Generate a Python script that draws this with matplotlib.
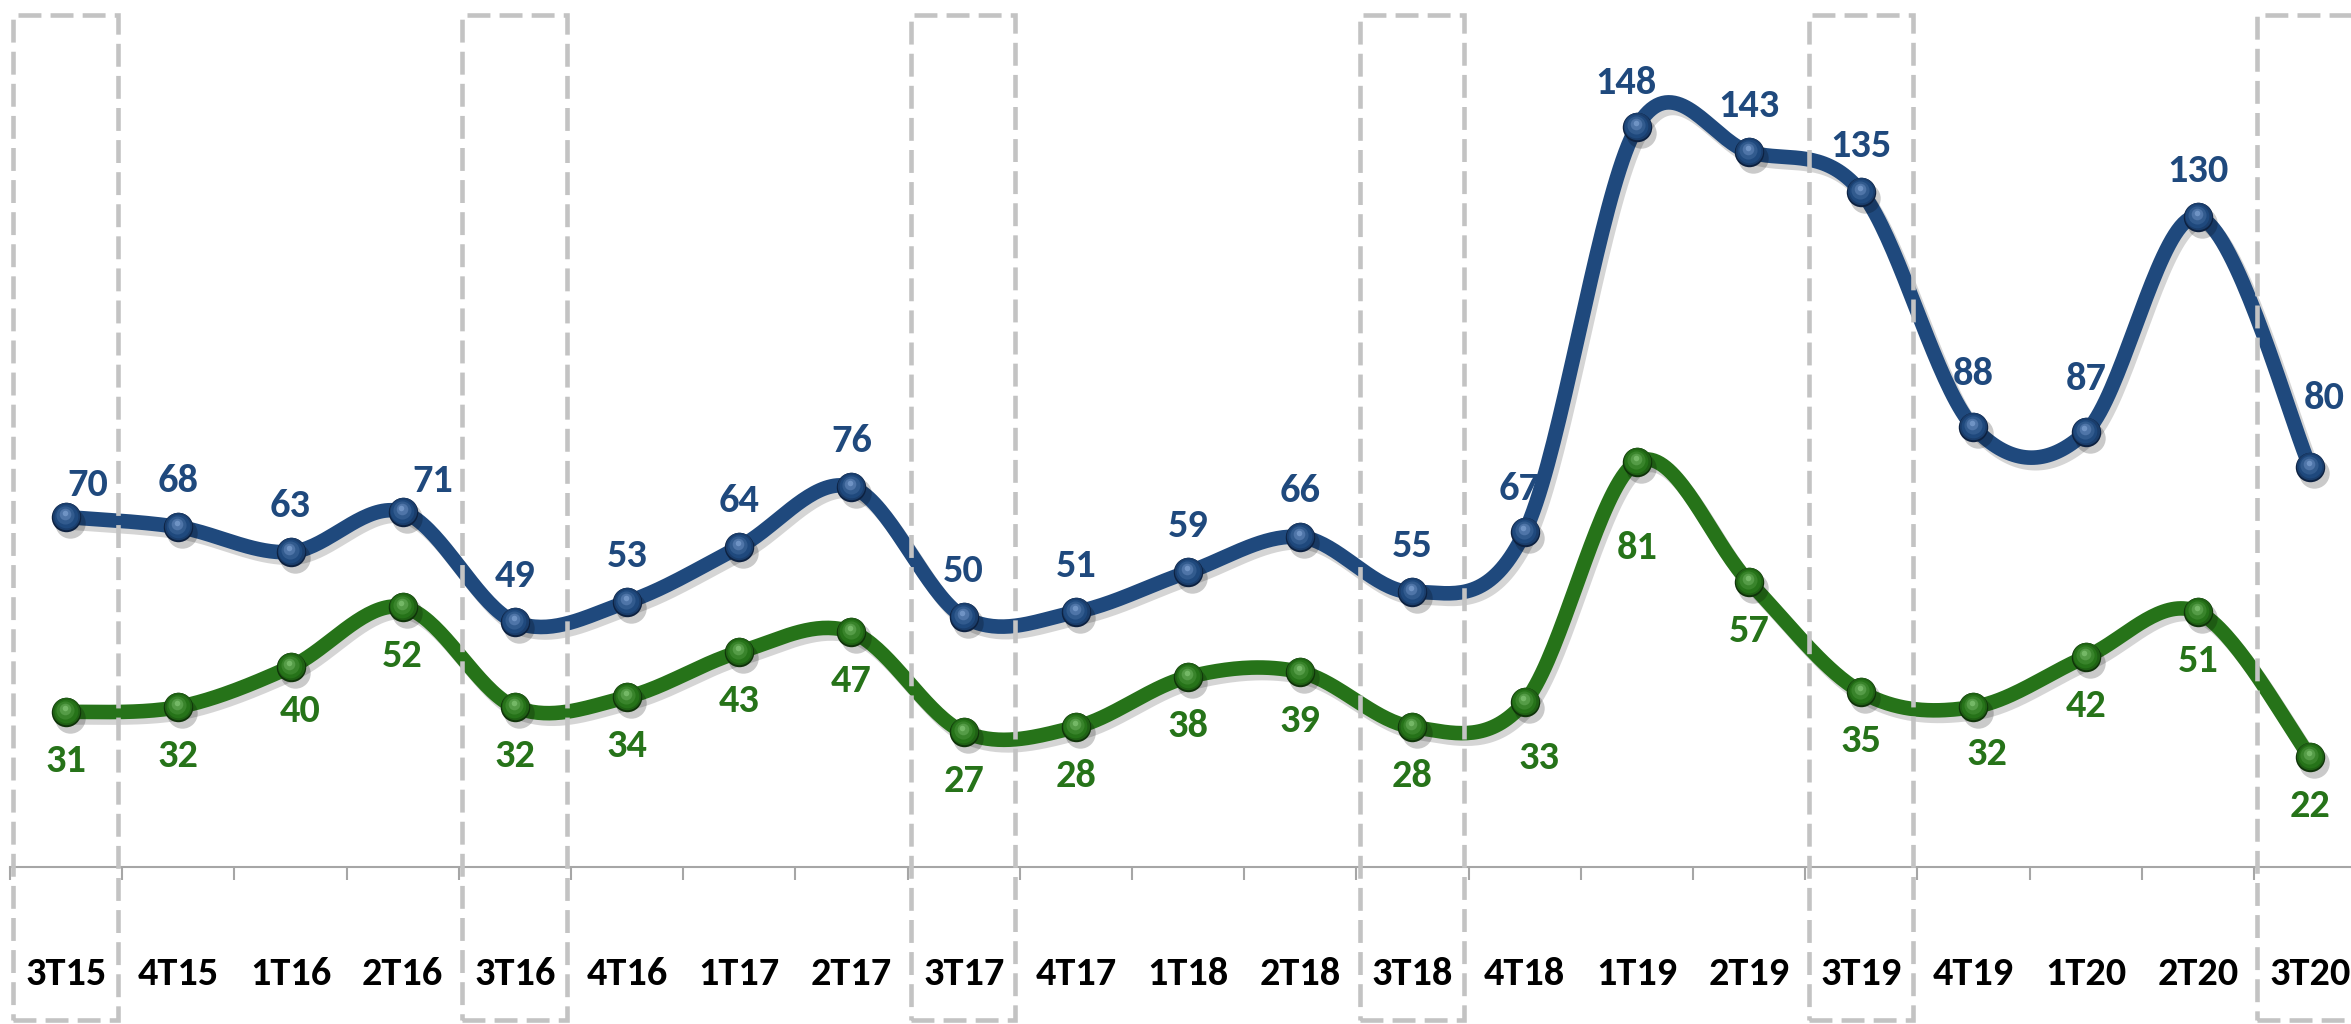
import numpy as np
import matplotlib
matplotlib.use("Agg")
import matplotlib.pyplot as plt
import matplotlib.patheffects as pe
from matplotlib.patches import Rectangle
from matplotlib.transforms import ScaledTranslation

plt.rcParams['font.family'] = ['Carlito', 'DejaVu Sans']

quarters = ['3T15', '4T15', '1T16', '2T16', '3T16', '4T16', '1T17', '2T17', '3T17', '4T17',
            '1T18', '2T18', '3T18', '4T18', '1T19', '2T19', '3T19', '4T19', '1T20', '2T20', '3T20']
blue_values = [70, 68, 63, 71, 49, 53, 64, 76, 50, 51, 59, 66, 55, 67, 148, 143, 135, 88, 87, 130, 80]
green_values = [31, 32, 40, 52, 32, 34, 43, 47, 27, 28, 38, 39, 28, 33, 81, 57, 35, 32, 42, 51, 22]
boxed = ['3T15', '3T16', '3T17', '3T18', '3T19', '3T20']

BLUE = '#1F497D'
GREEN = '#267319'
BOX = '#C3C3C3'

# label nudges (points), anything not listed uses the default
blue_nudge = {0: (16, 23), 3: (22, 22), 13: (-4, 31), 14: (-8, 32), 17: (0, 38), 18: (0, 38), 20: (10, 50)}
green_nudge = {2: (7, -32), 13: (10, -40), 14: (0, -62), 17: (10, -34)}


def smooth(x, y, n=40):
    # excel style smoothing (catmull-rom through the points)
    x = np.asarray(x, float)
    y = np.asarray(y, float)
    px = np.concatenate([[x[0]], x, [x[-1]]])
    py = np.concatenate([[y[0]], y, [y[-1]]])
    xs, ys = [], []
    t = np.linspace(0, 1, n)
    for i in range(1, len(px) - 2):
        p0 = np.array([px[i], py[i]])
        p3 = np.array([px[i + 1], py[i + 1]])
        c1 = p0 + (p3 - np.array([px[i - 1], py[i - 1]])) / 6
        c2 = p3 - (np.array([px[i + 2], py[i + 2]]) - p0) / 6
        b = ((1 - t) ** 3)[:, None] * p0 + (3 * (1 - t) ** 2 * t)[:, None] * c1 \
            + (3 * (1 - t) * t ** 2)[:, None] * c2 + (t ** 3)[:, None] * p3
        xs.append(b[:, 0])
        ys.append(b[:, 1])
    return np.concatenate(xs), np.concatenate(ys)


def sphere(ax, x, y, color, light, dark):
    # fake 3d ball marker: shadow, dark rim, then lighter layers towards the top
    dpi = ax.figure.dpi_scale_trans
    ax.scatter(x, y, s=480, color='#00000035', zorder=5, linewidths=0,
               transform=ax.transData + ScaledTranslation(3/72, -4/72, dpi))
    ax.scatter(x, y, s=450, color=dark, linewidths=0, zorder=6)
    cmap = matplotlib.colors.LinearSegmentedColormap.from_list('s', [dark, color, light])
    layers = [(390, 0.0, 0.4, 0.35), (290, -0.3, 1.0, 0.5), (170, -0.6, 1.6, 0.62),
              (70, -0.8, 2.2, 0.8), (16, -0.9, 3.0, 1.0)]
    for k, (sz, dx, dy, c) in enumerate(layers):
        ax.scatter(x, y, s=sz, color=cmap(c), linewidths=0, zorder=7 + k,
                   transform=ax.transData + ScaledTranslation(dx/72, dy/72, dpi))


fig = plt.figure(figsize=(23.51, 10.24), dpi=100)
step = 112.2 / 2351
ax = fig.add_axes([10 / 2351, 157 / 1024, 21 * step, 867 / 1024])
ax.set_xlim(-0.5, 20.5)
ax.set_ylim(0, 173.4)

x = np.arange(len(quarters))
shadow = [pe.SimpleLineShadow(offset=(3, -4), shadow_color='#888888', alpha=0.35), pe.Normal()]

for vals, col, light, dark in [(blue_values, BLUE, '#6f93c4', '#0d2140'),
                               (green_values, GREEN, '#74b866', '#0f3309')]:
    sx, sy = smooth(x, vals)
    ax.plot(sx, sy, color=col, lw=10.5, solid_capstyle='round', zorder=3, path_effects=shadow)
    sphere(ax, x, vals, col, light, dark)

for i, v in enumerate(blue_values):
    dx, dy = blue_nudge.get(i, (0, 33))
    ax.annotate(str(v), (i, v), xytext=(dx, dy), textcoords='offset points',
                ha='center', va='center', fontsize=29, fontweight='bold', color=BLUE, zorder=12)
for i, v in enumerate(green_values):
    dx, dy = green_nudge.get(i, (0, -35))
    ax.annotate(str(v), (i, v), xytext=(dx, dy), textcoords='offset points',
                ha='center', va='center', fontsize=29, fontweight='bold', color=GREEN, zorder=12)

# dashed boxes round the third quarters
for q in boxed:
    i = quarters.index(q)
    ax.add_patch(Rectangle((i - 0.47, -30.6), 0.93, 201.0, fill=False, edgecolor=BOX,
                           lw=3.3, ls=(0, (5, 2)), clip_on=False, zorder=4))

for s in ['top', 'right', 'left']:
    ax.spines[s].set_visible(False)
ax.spines['bottom'].set_color('#A6A6A6')
ax.spines['bottom'].set_linewidth(1.5)
ax.set_yticks([])
ax.set_xticks(x, quarters)
ax.set_xticks(np.arange(-0.5, 21, 1), minor=True)
ax.tick_params(axis='x', which='major', length=0, pad=65, labelsize=29, labelcolor='black')
ax.tick_params(axis='x', which='minor', length=9, width=1.5, color='#A6A6A6')
for lab in ax.get_xticklabels():
    lab.set_fontweight('bold')

fig.savefig('out.png', dpi=100)
